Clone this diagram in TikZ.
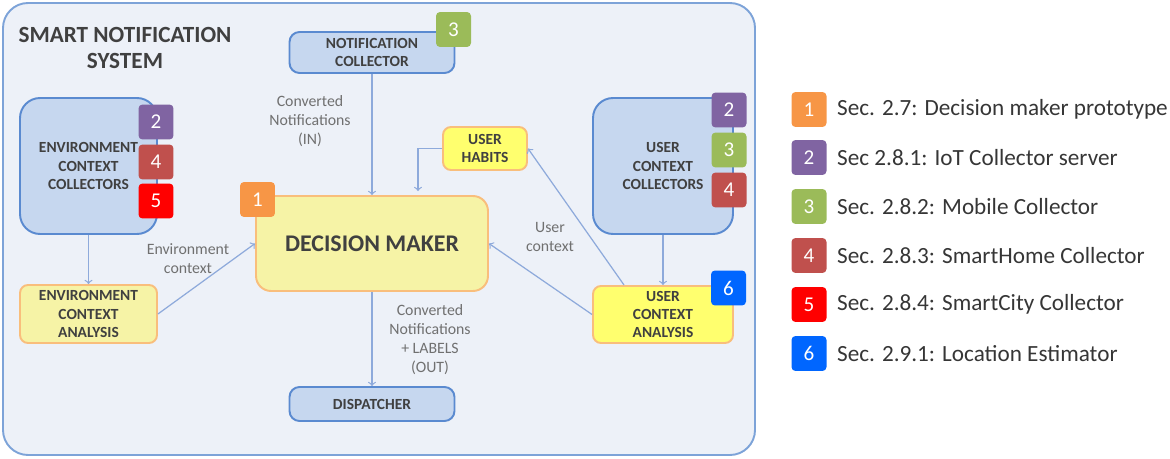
\documentclass[tikz,border=0pt]{standalone}
\usepackage{fontspec}
\setmainfont{Carlito}
\usetikzlibrary{positioning}

\definecolor{sysfill}{HTML}{EDF1F8}
\definecolor{sysline}{HTML}{7DA3D8}
\definecolor{bluefill}{HTML}{C6D7EF}
\definecolor{blueline}{HTML}{5A8AD0}
\definecolor{paleyellow}{HTML}{F6F3A6}
\definecolor{brightyellow}{HTML}{FFFF6E}
\definecolor{orangeline}{HTML}{F9BE7C}
\definecolor{arrowblue}{HTML}{8EAADB}
\definecolor{boxtext}{HTML}{404040}
\definecolor{labeltext}{HTML}{707070}
\definecolor{secorange}{HTML}{F79646}
\definecolor{secpurple}{HTML}{8064A2}
\definecolor{secgreen}{HTML}{9BBB59}
\definecolor{secbrown}{HTML}{C0504D}
\definecolor{secred}{HTML}{FF0000}
\definecolor{secblue}{HTML}{0066FF}

\tikzset{
	bluebox/.style={draw=blueline, fill=bluefill, line width=1.1pt, rounded corners=0.2cm,
		text=boxtext, font=\fontsize{8.8}{10.5}\selectfont\bfseries, align=center, inner sep=0pt},
	yellowbox/.style={draw=orangeline, fill=paleyellow, line width=1.1pt, rounded corners=0.16cm,
		text=boxtext, font=\fontsize{8.8}{10.5}\selectfont\bfseries, align=center, inner sep=0pt},
	badge/.style={fill=#1, rounded corners=0.08cm, minimum size=0.7cm, inner sep=0pt,
		text=white, font=\fontsize{12}{12}\selectfont},
	flowlabel/.style={text=labeltext, font=\fontsize{9}{10.8}\selectfont, align=center},
	flow/.style={draw=arrowblue, line width=0.7pt, ->},
}

\begin{document}
\begin{tikzpicture}[x=0.02cm, y=-0.02cm]
	\useasboundingbox (0,0) rectangle (1170,459);
	\draw[draw=sysline, fill=sysfill, line width=1.1pt, rounded corners=0.5cm] (3,3) rectangle (755,455);
	\node[text=boxtext, font=\fontsize{13.2}{15.3}\selectfont\bfseries, align=center] (title) at (125,48) {SMART NOTIFICATION\\SYSTEM};

	\node[bluebox, minimum width=3.3cm, minimum height=0.82cm] (notif) at (372,52.5) {NOTIFICATION\\COLLECTOR};
	\node[bluebox, minimum width=3.3cm, minimum height=0.68cm] (dispatcher) at (372,404) {DISPATCHER};
	\node[bluebox, rounded corners=0.4cm, minimum width=2.74cm, minimum height=2.72cm] (envcol) at (88.5,166) {ENVIRONMENT\\CONTEXT\\COLLECTORS};
	\node[bluebox, rounded corners=0.4cm, minimum width=2.8cm, minimum height=2.72cm] (usercol) at (663,166) {USER\\CONTEXT\\COLLECTORS};
	\node[yellowbox, minimum width=2.74cm, minimum height=1.16cm] (envana) at (88.5,314) {ENVIRONMENT\\CONTEXT\\ANALYSIS};
	\node[yellowbox, fill=brightyellow, minimum width=2.8cm, minimum height=1.14cm] (userana) at (663,314.5) {USER\\CONTEXT\\ANALYSIS};
	\node[yellowbox, fill=brightyellow, minimum width=1.68cm, minimum height=0.86cm] (habits) at (485,148.5) {USER\\HABITS};
	\node[yellowbox, rounded corners=0.3cm, minimum width=4.64cm, minimum height=1.9cm, font=\fontsize{13.6}{16}\selectfont\bfseries] (decision) at (372,243.5) {DECISION MAKER};

	\node[badge=secgreen] (notifthree) at (453.5,29.5) {3};
	\node[badge=secorange] (decisionone) at (257.5,199.5) {1};
	\node[badge=secpurple] (envtwo) at (156,122) {2};
	\node[badge=secbrown] (envfour) at (156,162) {4};
	\node[badge=secred] (envfive) at (156,201) {5};
	\node[badge=secpurple] (usertwo) at (729,110) {2};
	\node[badge=secgreen] (userthree) at (729,150) {3};
	\node[badge=secbrown] (userfour) at (729,190) {4};
	\node[badge=secblue] (usersix) at (728.5,288) {6};

	\draw[flow] (notif.south) -- (decision.north);
	\draw[flow] (envcol.south) -- (envana.north);
	\draw[flow] (envana.east) -- (decision.west);
	\draw[flow] (usercol.south) -- (userana.north);
	\draw[flow] ([xshift=0.64cm]userana.north west) -- (habits.east);
	\draw[flow] (userana.west) -- (decision.east);
	\draw[flow] (habits.west) -| ([xshift=0.92cm, yshift=0.08cm]decision.north);
	\draw[flow] (decision.south) -- (dispatcher.north);

	\node[flowlabel] (inlabel) at (310,121) {Converted\\Notifications\\(IN)};
	\node[flowlabel] (envlabel) at (188,259) {Environment\\context};
	\node[flowlabel] (userlabel) at (550,237) {User\\context};
	\node[flowlabel] (outlabel) at (430,340) {Converted\\Notifications\\+ LABELS\\(OUT)};

	% legend
	\foreach \n/\c/\y/\t in {1/secorange/109.5/{Sec. 2.7: Decision maker prototype},
		2/secpurple/157.5/{Sec 2.8.1: IoT Collector server},
		3/secgreen/206.5/{Sec. 2.8.2: Mobile Collector},
		4/secbrown/255.5/{Sec. 2.8.3: SmartHome Collector},
		5/secred/304.5/{Sec. 2.8.4: SmartCity Collector},
		6/secblue/353.5/{Sec. 2.9.1: Location Estimator}}{
		\node[badge=\c] (key\n) at (809,\y) {\n};
		\node[right=0.2cm of key\n, inner sep=0pt, text=boxtext!85!black, font=\fontsize{13.2}{15}\selectfont] (keytext\n) {\t};
	}
\end{tikzpicture}
\end{document}
